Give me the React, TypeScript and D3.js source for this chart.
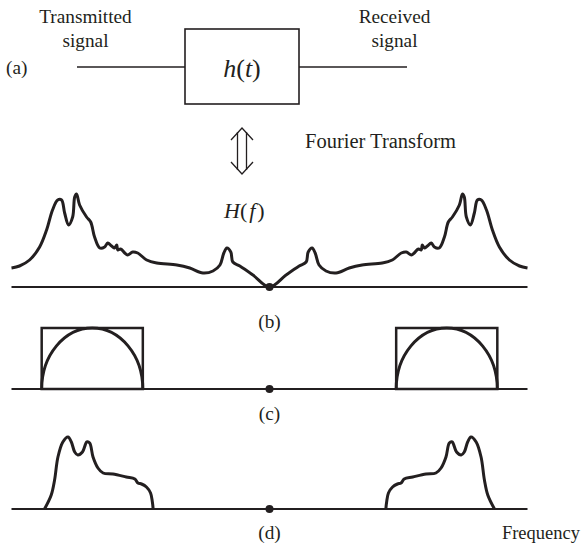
import React from 'react';
import * as d3 from 'd3';

const W = 581;
const H = 545;

// Panel (b): channel magnitude |H(f)|, negative-frequency half; positive half is its mirror image
const hfFreq = [-1.0, -0.969, -0.93, -0.891, -0.864, -0.841, -0.821, -0.806, -0.794, -0.779, -0.763, -0.755, -0.748, -0.736, -0.709, -0.693, -0.678, -0.658, -0.639, -0.627, -0.612, -0.6, -0.592, -0.588, -0.577, -0.561, -0.55, -0.53, -0.511, -0.476, -0.437, -0.359, -0.309, -0.258, -0.219, -0.192, -0.177, -0.165, -0.15, -0.142, -0.115, -0.064, 0];
const hfMag = [0.19, 0.21, 0.27, 0.4, 0.57, 0.77, 0.87, 0.87, 0.74, 0.62, 0.7, 0.9, 0.93, 0.82, 0.7, 0.65, 0.5, 0.39, 0.4, 0.44, 0.41, 0.39, 0.42, 0.37, 0.38, 0.34, 0.32, 0.35, 0.34, 0.27, 0.24, 0.22, 0.19, 0.14, 0.16, 0.22, 0.34, 0.39, 0.35, 0.25, 0.21, 0.12, 0];

// Panel (c): ideal bandpass edges (negative band) and its gain
const bandEdges = [-0.883, -0.491];
const bandGain = 0.61;

// Panel (d): received signal spectrum, negative-frequency half
const sigFreq = [-0.872, -0.846, -0.833, -0.82, -0.801, -0.781, -0.768, -0.755, -0.743, -0.725, -0.708, -0.697, -0.684, -0.665, -0.645, -0.607, -0.555, -0.522, -0.51, -0.496, -0.477, -0.461, -0.454, -0.451];
const sigMag = [0, 0.14, 0.29, 0.52, 0.67, 0.72, 0.67, 0.57, 0.54, 0.57, 0.67, 0.66, 0.52, 0.41, 0.36, 0.35, 0.32, 0.3, 0.26, 0.25, 0.22, 0.16, 0.07, 0];

const panelLabels = ['(b)', '(c)', '(d)'];

type Pt = [number, number];

function mirrored(freq: number[], mag: number[]): Pt[] {
  const left: Pt[] = freq.map((f, i) => [f, mag[i]]);
  const right: Pt[] = left
    .filter(([f]) => f !== 0)
    .map(([f, m]) => [-f, m] as Pt)
    .reverse();
  return [...left, ...right];
}

const FONT = '"Liberation Serif", "Times New Roman", serif';
const INK = '#231f20';

export default function App() {
  const x = d3.scaleLinear().domain([-1, 1]).range([11.5, 527.5]);
  const baseB = 287;
  const baseC = 389;
  const baseD = 509;
  const yB = d3.scaleLinear().domain([0, 1]).range([baseB, baseB - 100]);
  const yC = d3.scaleLinear().domain([0, 1]).range([baseC, baseC - 100]);
  const yD = d3.scaleLinear().domain([0, 1]).range([baseD, baseD - 100]);

  const lineB = d3
    .line<Pt>()
    .x((d) => x(d[0]))
    .y((d) => yB(d[1]))
    .curve(d3.curveCatmullRom.alpha(0.5));
  const lineD = d3
    .line<Pt>()
    .x((d) => x(d[0]))
    .y((d) => yD(d[1]))
    .curve(d3.curveCatmullRom.alpha(0.5));

  const hPts = mirrored(hfFreq, hfMag);
  const dLeft: Pt[] = sigFreq.map((f, i) => [f, sigMag[i]]);
  const dRight: Pt[] = dLeft.map(([f, m]) => [-f, m] as Pt).reverse();

  const bands = [bandEdges, bandEdges.map((f) => -f).reverse()];

  const axisStroke = 2;
  const curveStroke = 3;
  const labelSize = 19.3;

  // block diagram geometry
  const boxX0 = 185;
  const boxX1 = 299;
  const boxY0 = 29;
  const boxY1 = 104;
  const wireY = 67;
  const cx = (boxX0 + boxX1) / 2;

  return (
    <svg
      width={W}
      height={H}
      style={{ position: 'absolute', left: 0, top: 0, background: '#fff' }}
      fontFamily={FONT}
    >
      <rect x={0} y={0} width={W} height={H} fill="#fff" />
      {/* (a) block diagram */}
      <text x={85.5} y={23} fontSize={labelSize} textAnchor="middle" fill={INK}>Transmitted</text>
      <text x={85.5} y={47} fontSize={labelSize} textAnchor="middle" fill={INK}>signal</text>
      <text x={394.5} y={23} fontSize={labelSize} textAnchor="middle" fill={INK}>Received</text>
      <text x={394.5} y={47} fontSize={labelSize} textAnchor="middle" fill={INK}>signal</text>
      <text x={6} y={74} fontSize={labelSize} fill={INK}>(a)</text>
      <line x1={77} y1={wireY} x2={boxX0} y2={wireY} stroke={INK} strokeWidth={1.5} />
      <line x1={boxX1} y1={wireY} x2={407} y2={wireY} stroke={INK} strokeWidth={1.5} />
      <rect x={boxX0} y={boxY0} width={boxX1 - boxX0} height={boxY1 - boxY0} fill="none" stroke={INK} strokeWidth={1.6} />
      <text x={cx} y={77} fontSize={26} textAnchor="middle" fill={INK}>
        <tspan fontStyle="italic">h</tspan>(<tspan fontStyle="italic">t</tspan>)
      </text>

      {/* Fourier transform double arrow */}
      <g stroke={INK} strokeWidth={1.3} fill="none">
        <polyline points={`${cx - 11},${140} ${cx},${128} ${cx + 11},${140}`} />
        <polyline points={`${cx - 11},${162} ${cx},${174} ${cx + 11},${162}`} />
        <line x1={cx - 4.5} y1={132} x2={cx - 4.5} y2={170} />
        <line x1={cx + 4.5} y1={132} x2={cx + 4.5} y2={170} />
      </g>
      <text x={305} y={148} fontSize={20.5} fill={INK}>Fourier Transform</text>
      <text x={224} y={218} fontSize={22} fill={INK}>
        <tspan fontStyle="italic">H</tspan>(<tspan fontStyle="italic" dx={2}>f</tspan>
        <tspan dx={2}>)</tspan>
      </text>

      {/* (b) channel response */}
      <line x1={x(-1)} y1={baseB} x2={x(1)} y2={baseB} stroke={INK} strokeWidth={axisStroke} />
      <path d={lineB(hPts) ?? ''} fill="none" stroke={INK} strokeWidth={curveStroke} strokeLinejoin="round" />
      <circle cx={x(0)} cy={baseB} r={4} fill={INK} />
      <text x={x(0)} y={328} fontSize={labelSize} textAnchor="middle" fill={INK}>{panelLabels[0]}</text>

      {/* (c) ideal bandpass */}
      <line x1={x(-1)} y1={baseC} x2={x(1)} y2={baseC} stroke={INK} strokeWidth={axisStroke} />
      {bands.map((b, i) => {
        const x0 = x(b[0]);
        const x1 = x(b[1]);
        const yTop = yC(bandGain);
        const rx = (x1 - x0) / 2;
        const ry = baseC - yTop;
        return (
          <g key={i} fill="none" stroke={INK}>
            <rect x={x0} y={yTop} width={x1 - x0} height={baseC - yTop} strokeWidth={2.5} />
            <path d={`M${x0},${baseC} A${rx},${ry} 0 0 1 ${x1},${baseC}`} strokeWidth={curveStroke} />
          </g>
        );
      })}
      <circle cx={x(0)} cy={baseC} r={4} fill={INK} />
      <text x={x(0)} y={420} fontSize={labelSize} textAnchor="middle" fill={INK}>{panelLabels[1]}</text>

      {/* (d) received spectrum */}
      <line x1={x(-1)} y1={baseD} x2={x(1)} y2={baseD} stroke={INK} strokeWidth={axisStroke} />
      <path d={lineD(dLeft) ?? ''} fill="none" stroke={INK} strokeWidth={curveStroke} strokeLinejoin="round" />
      <path d={lineD(dRight) ?? ''} fill="none" stroke={INK} strokeWidth={curveStroke} strokeLinejoin="round" />
      <circle cx={x(0)} cy={baseD} r={4} fill={INK} />
      <text x={x(0)} y={539} fontSize={labelSize} textAnchor="middle" fill={INK}>{panelLabels[2]}</text>
      <text x={580} y={539} fontSize={18.5} textAnchor="end" fill={INK}>Frequency</text>
    </svg>
  );
}
